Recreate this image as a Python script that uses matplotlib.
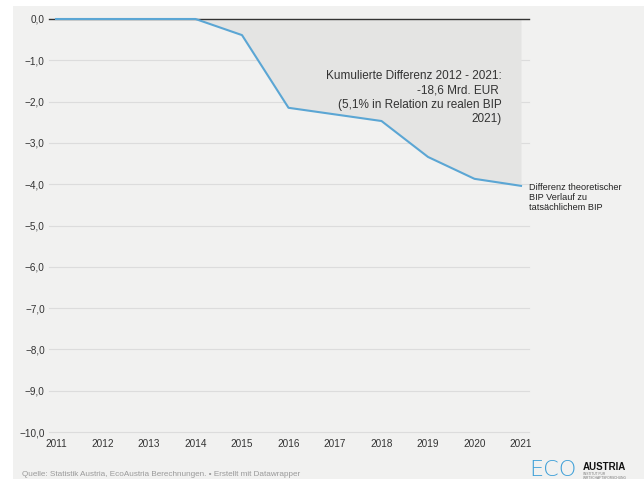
import matplotlib
matplotlib.use("Agg")
import matplotlib.pyplot as plt
from matplotlib.patches import Rectangle
import numpy as np

plt.rcParams["font.family"] = ["Liberation Sans", "DejaVu Sans"]

# Daten
jahre = [2011, 2012, 2013, 2014, 2015, 2016, 2017, 2018, 2019, 2020, 2021]
differenz = [0.0, 0.0, 0.0, 0.0, -0.39, -2.15, -2.31, -2.47, -3.34, -3.87, -4.04]
y_ticks = [0, -1, -2, -3, -4, -5, -6, -7, -8, -9, -10]

annotation = "Kumulierte Differenz 2012 - 2021:\n-18,6 Mrd. EUR \n(5,1% in Relation zu realen BIP\n2021)"
linien_label = "Differenz theoretischer\nBIP Verlauf zu\ntatsächlichem BIP"
quelle = "Quelle: Statistik Austria, EcoAustria Berechnungen. • Erstellt mit Datawrapper"

BG = "#f1f1f0"
BLAU = "#5ba6d4"
TXT = "#333333"

W, H = 644, 483
fig = plt.figure(figsize=(W / 100, H / 100), dpi=100, facecolor="white")
fig.patches.append(Rectangle((13 / W, 4 / H), 1, 1 - 10 / H, transform=fig.transFigure,
                             facecolor=BG, edgecolor="none", zorder=-5))

ax = fig.add_axes([49 / W, 1 - 432 / H, (529 - 49) / W, (432 - 19) / H])
ax.set_facecolor("none")
ax.set_xlim(2011 - 7 / 46.5, 2021 + 8 / 46.5)
ax.set_ylim(-10, 0)

for v in y_ticks:
    ax.axhline(v, color="#dcdcdc" if v != 0 else "#333333", lw=0.8 if v != 0 else 1.0,
               zorder=1 if v != 0 else 3, clip_on=False)

x = np.array(jahre)
y = np.array(differenz)
mask = x >= 2014
ax.fill_between(x[mask], y[mask], 0, color="#e4e4e3", lw=0, zorder=2)
ax.plot(x, y, color=BLAU, lw=1.5, zorder=4, clip_on=False, solid_joinstyle="round")

for s in ax.spines.values():
    s.set_visible(False)
ax.set_yticks(y_ticks)
ax.set_yticklabels([f"{v:.1f}".replace(".", ",").replace("-", "\u2212") for v in y_ticks])
ax.set_xticks(jahre)
ax.set_xticklabels([str(j) for j in jahre])
ax.tick_params(axis="both", length=0, labelsize=7.2, labelcolor=TXT)
ax.tick_params(axis="y", pad=3)
ax.tick_params(axis="x", pad=5)

ax.text(2021 - 19 / 46.5, -1.90, annotation, ha="right", va="center", fontsize=8.5, color=TXT,
        linespacing=1.25)
ax.text(2021 + 8 / 46.5, -3.98, linien_label, ha="left", va="top",
        fontsize=6.6, color="#222222", linespacing=1.15, clip_on=False)

fig.text(22 / W, 1 - 474 / H, quelle, ha="left", va="center", fontsize=5.9, color="#9a9a9a")

# Logo
fig.text(529 / W, 1 - 470 / H, "ECO", ha="left", va="center", fontsize=16, color="#3fa0d8",
         fontweight="light", family="DejaVu Sans")
fig.text(583 / W, 1 - 467 / H, "AUSTRIA", ha="left", va="center", fontsize=7, color="#111111",
         fontweight="bold")
fig.text(583 / W, 1 - 476 / H, "INSTITUT FÜR\nWIRTSCHAFTSFORSCHUNG", ha="left", va="center",
         fontsize=2.3, color="#777777", linespacing=1.0)

fig.savefig("out.png", dpi=100, facecolor="white")
